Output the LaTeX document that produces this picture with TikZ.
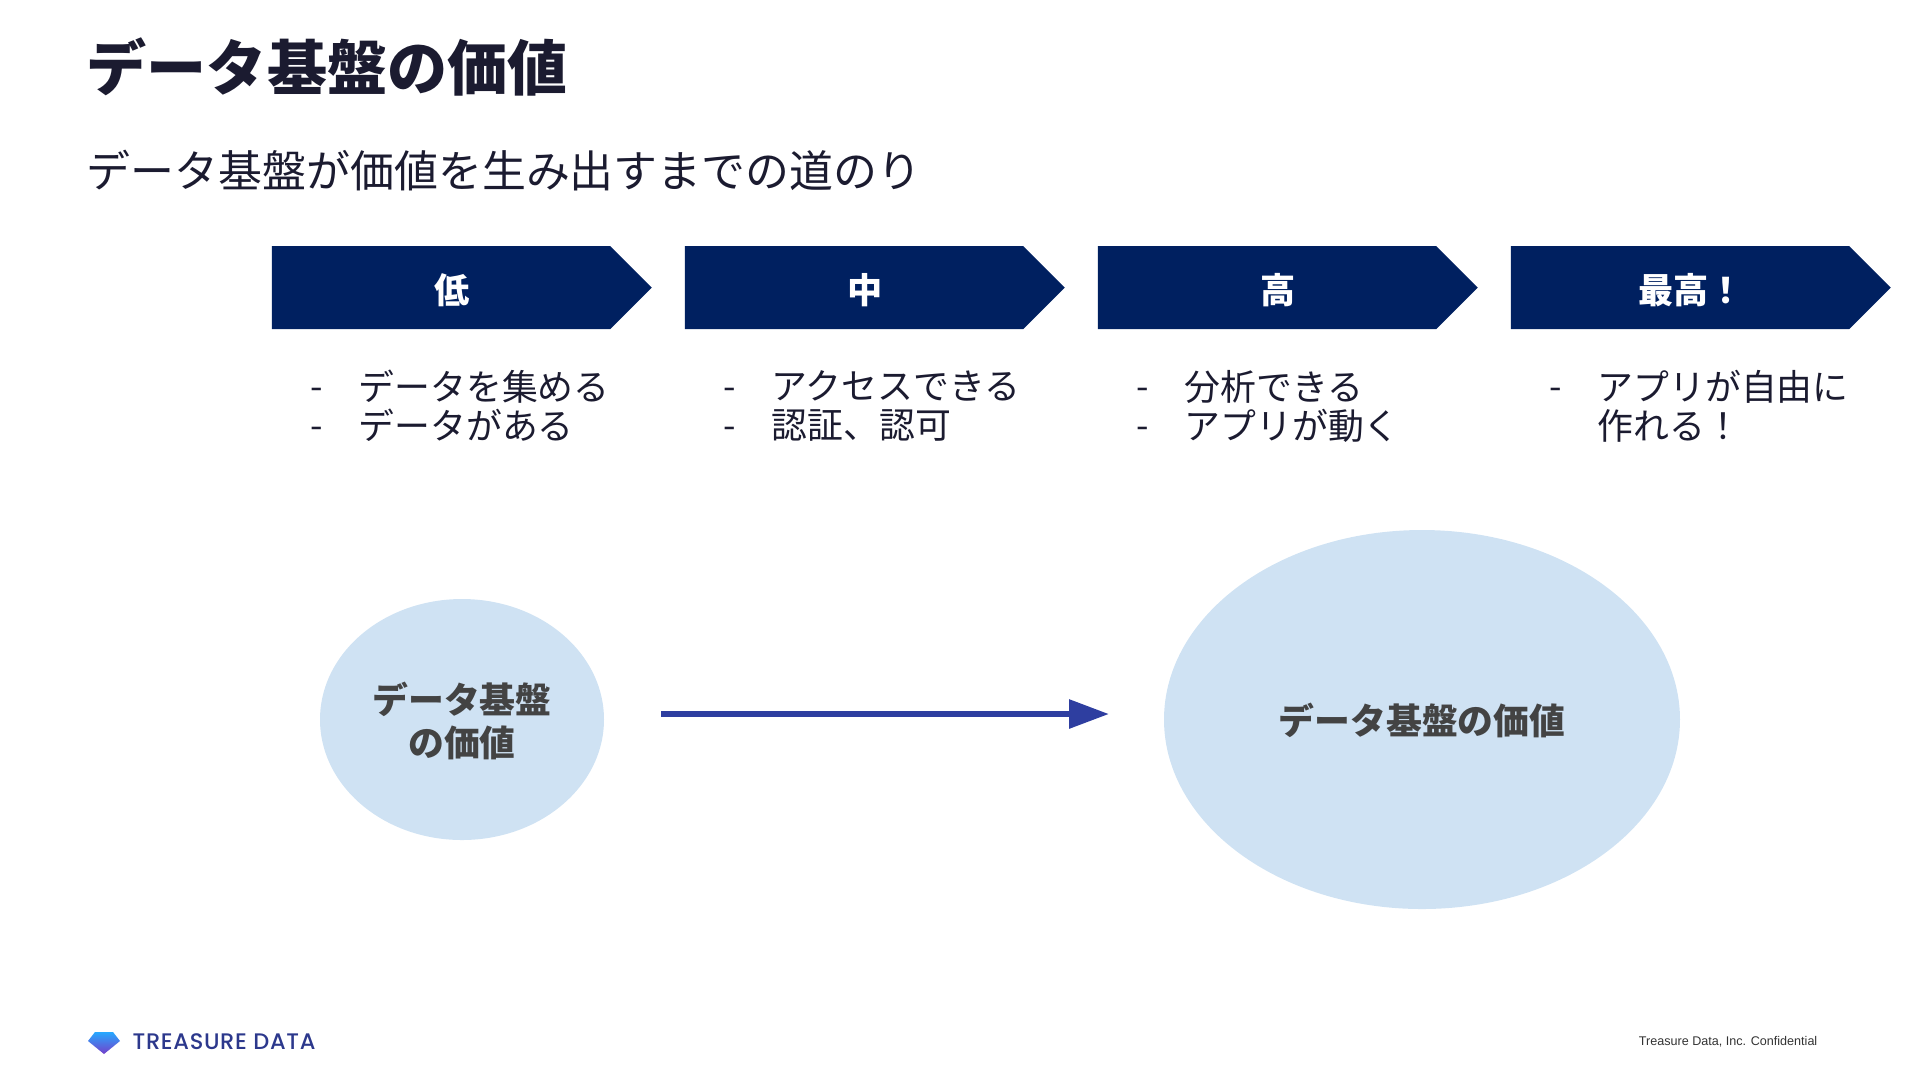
\documentclass[tikz,border=0pt]{standalone}
\usepackage{fontspec}
\setmainfont{Noto Sans CJK JP}
\newfontfamily\logofont[UprightFont=* Medium,LetterSpace=3]{Poppins}
\newfontfamily\footfont{Liberation Sans}
\usepackage{xcolor}
\usetikzlibrary{shapes.symbols,shapes.geometric,arrows.meta,positioning}
\definecolor{tdnavy}{RGB}{0,32,96}
\definecolor{tdink}{RGB}{27,27,48}
\definecolor{tdpale}{RGB}{207,226,243}
\definecolor{tdgrey}{RGB}{67,67,67}
\definecolor{tdblue}{RGB}{46,62,160}
\definecolor{tdlogo}{RGB}{44,56,140}
\tikzset{
    chevbox/.style={signal, signal to=east, signal from=nowhere, signal pointer angle=90,
        fill=tdnavy, minimum width=38mm, minimum height=8.3mm, inner sep=0pt, outer sep=0pt},
    chevlabel/.style={text=white, font=\fontsize{10}{12}\selectfont\bfseries, inner sep=0pt},
    itemtext/.style={anchor=west, align=left, inner sep=0pt, text=tdink,
        font=\fontsize{10.2}{11.1}\selectfont},
    blob/.style={ellipse, fill=tdpale, inner sep=0pt, outer sep=0pt},
    blobtext/.style={align=center, inner sep=0pt, text=tdgrey,
        font=\fontsize{10.2}{10.2}\selectfont\bfseries},
    flowarrow/.style={draw=tdblue, line width=0.6mm, shorten <=5.7mm, shorten >=5.5mm,
        -{Triangle[length=4mm,width=2.8mm]}}
}

\begin{document}
\begin{tikzpicture}[x=0.1mm,y=-0.1mm]
    \useasboundingbox (0,0) rectangle (1920,1080);

    % Heading
    \node[anchor=west, inner sep=0pt, text=tdink, font=\fontsize{17.1}{20}\selectfont\bfseries] (title) at (86,67) {データ基盤の価値};
    \node[anchor=west, inner sep=0pt, text=tdink, font=\fontsize{12.5}{15}\selectfont] (subtitle) at (86,171) {データ基盤が価値を生み出すまでの道のり};

    % Four stages
    \node[chevbox] (lowbox) at (441,287.5) {};
    \node[chevbox] (midbox) at (854,287.5) {};
    \node[chevbox] (highbox) at (1267,287.5) {};
    \node[chevbox] (topbox) at (1680,287.5) {};
    \node[chevlabel] (lowlabel) at ([xshift=1.1mm,yshift=-0.25mm]lowbox.center) {低};
    \node[chevlabel] (midlabel) at ([xshift=1.1mm,yshift=-0.25mm]midbox.center) {中};
    \node[chevlabel] (highlabel) at ([xshift=1.1mm,yshift=-0.25mm]highbox.center) {高};
    \node[chevlabel] (toplabel) at ([xshift=1.1mm,yshift=-0.25mm]topbox.center) {最高！};

    % Items under each stage
    \node[itemtext] (lowdash) at (310,413) {-\\-};
    \node[itemtext] (lowitems) at (358,406) {データを集める\\データがある};
    \node[itemtext] (middash) at (723,413) {-\\-};
    \node[itemtext] (miditems) at (771,406) {アクセスできる\\認証、認可};
    \node[itemtext] (highdash) at (1136,413) {-\\-};
    \node[itemtext] (highitems) at (1184,406) {分析できる\\アプリが動く};
    \node[itemtext] (topdash) at (1549,413) {-\\\mbox{}};
    \node[itemtext] (topitems) at (1597,406) {アプリが自由に\\作れる！};

    % Small value grows into large value
    \node[blob, minimum width=28.4mm, minimum height=24.1mm] (smallblob) at (462,719.5) {};
    \node[blob, minimum width=51.6mm, minimum height=37.9mm] (bigblob) at (1422,719.5) {};
    \node[blobtext] (smalltext) at ([yshift=-0.15mm]smallblob.center) {データ基盤\\[0.7mm]の価値};
    \node[blobtext] (bigtext) at ([yshift=-0.12mm]bigblob.center) {データ基盤の価値};
    \draw[flowarrow] ([yshift=0.55mm]smallblob.east) -- ([yshift=0.55mm]bigblob.west);

    % Footer
    \shade[top color=cyan!60!blue!85, bottom color=violet!55!blue!75] (88,1041) -- (95,1032) -- (113,1032) -- (120,1041) -- (104,1054) -- cycle;
    \node[anchor=west, inner sep=0pt, text=tdlogo, font=\fontsize{6.4}{8}\selectfont\logofont] (logotext) at (132,1042) {TREASURE DATA};
    \node[anchor=east, inner sep=0pt, text=black!80, font=\fontsize{3.58}{5}\selectfont\footfont] (confidential) at (1818,1042) {Treasure Data, Inc. Confidential};
\end{tikzpicture}
\end{document}
